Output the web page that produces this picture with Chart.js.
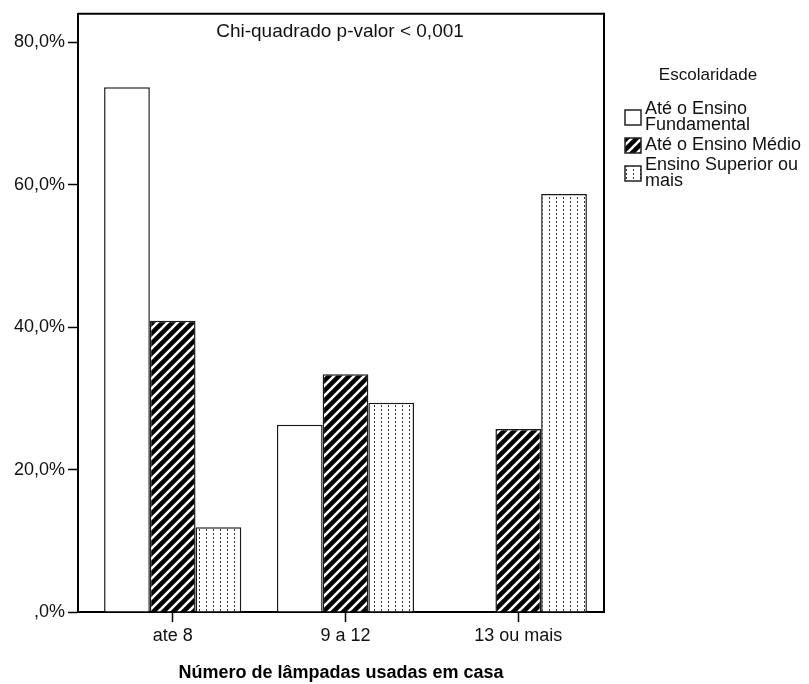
<!DOCTYPE html>
<html>
<head>
<meta charset="utf-8">
<title>Número de lâmpadas usadas em casa</title>
<script src="https://cdn.jsdelivr.net/npm/chart.js@4.4.1/dist/chart.umd.min.js"></script>
<style>
  html, body { margin: 0; padding: 0; background: #fff; }
  #wrap { width: 809px; height: 684px; }
</style>
</head>
<body>
<div id="wrap"><canvas id="chart" width="809" height="684"></canvas></div>
<script>
// Data
const categories = ['ate 8', '9 a 12', '13 ou mais'];
const seriesNames = [['Até o Ensino', 'Fundamental'], ['Até o Ensino Médio'], ['Ensino Superior ou', 'mais']];
const fundamental = [73.7, 26.3, 0];
const medio = [40.9, 33.4, 25.7];
const superior = [11.9, 29.4, 58.7];
const yTicks = [0, 20, 40, 60, 80];
const legendTitle = 'Escolaridade';
const note = 'Chi-quadrado p-valor < 0,001';
const xTitle = 'Número de lâmpadas usadas em casa';

const FONT = '"Liberation Sans", Arial, sans-serif';
const canvas = document.getElementById('chart');
const ctx = canvas.getContext('2d');

// Black fill with white diagonal stripes
function stripePattern() {
    const c = document.createElement('canvas');
    c.width = 10; c.height = 10;
    const g = c.getContext('2d');
    g.fillStyle = '#000';
    g.fillRect(0, 0, 10, 10);
    g.strokeStyle = '#fff';
    g.lineWidth = 2.6;
    g.beginPath();
    g.moveTo(-5, 5); g.lineTo(5, -5);
    g.moveTo(0, 10); g.lineTo(10, 0);
    g.moveTo(5, 15); g.lineTo(15, 5);
    g.stroke();
    return ctx.createPattern(c, 'repeat');
}

// White fill with small dots in columns
function dotPattern() {
    const c = document.createElement('canvas');
    c.width = 7; c.height = 4;
    const g = c.getContext('2d');
    g.fillStyle = '#fff';
    g.fillRect(0, 0, 7, 4);
    g.fillStyle = '#333';
    g.fillRect(3, 1, 1, 2);
    return ctx.createPattern(c, 'repeat');
}

const fills = ['#fff', stripePattern(), dotPattern()];
const seriesValues = [fundamental, medio, superior];

// Frame, note and legend
const extras = {
    id: 'extras',
    afterDraw(chart) {
        const { ctx, chartArea: a } = chart;
        ctx.save();
        ctx.strokeStyle = '#000';
        ctx.lineWidth = 2;
        ctx.beginPath();
        ctx.moveTo(a.left, a.top);
        ctx.lineTo(a.right, a.top);
        ctx.lineTo(a.right, a.bottom);
        ctx.stroke();

        ctx.fillStyle = '#111';
        ctx.font = '19px ' + FONT;
        ctx.textAlign = 'center';
        ctx.textBaseline = 'middle';
        ctx.fillText(note, 340, 32);

        ctx.font = '17px ' + FONT;
        ctx.fillText(legendTitle, 708, 75);

        ctx.font = '18px ' + FONT;
        ctx.textAlign = 'left';
        let y = 101;
        chart.data.datasets.forEach(ds => {
            const lines = ds.label;
            const mid = y + lines.length * 8;
            ctx.fillStyle = ds.backgroundColor;
            ctx.fillRect(625, mid - 7, 16, 15);
            ctx.strokeStyle = '#222';
            ctx.lineWidth = 1.5;
            ctx.strokeRect(625, mid - 7, 16, 15);
            ctx.fillStyle = '#111';
            lines.forEach((t, i) => ctx.fillText(t, 645, y + 8 + i * 16));
            y += lines.length * 16 + 4;
        });
        ctx.restore();
    }
};

new Chart(ctx, {
    type: 'bar',
    data: {
        datasets: seriesValues.map((vals, k) => ({
            label: seriesNames[k],
            data: vals.map((v, i) => ({ x: i, y: v })),
            backgroundColor: fills[k],
            borderColor: '#1a1a1a',
            borderWidth: 1.5,
            categoryPercentage: 0.794,
            barPercentage: 1
        }))
    },
    options: {
        responsive: false,
        animation: false,
        layout: { padding: { top: 12, right: 205, left: 0, bottom: 0 } },
        plugins: { legend: { display: false }, tooltip: { enabled: false } },
        scales: {
            x: {
                type: 'linear',
                offset: false,
                min: -0.548,
                max: 2.496,
                afterBuildTicks: s => { s.ticks = categories.map((_, i) => ({ value: i })); },
                afterFit: s => { s.height = 72; },
                ticks: {
                    callback: v => categories[v],
                    font: { family: FONT, size: 18 },
                    color: '#111',
                    padding: 3,
                    maxRotation: 0,
                    autoSkip: false
                },
                grid: { offset: false, drawOnChartArea: false, drawTicks: true, tickLength: 10, tickColor: '#000', tickWidth: 1.5 },
                border: { display: true, color: '#000', width: 2 },
                title: {
                    display: true,
                    text: xTitle,
                    font: { family: FONT, size: 18, weight: 'bold' },
                    color: '#000',
                    padding: { top: 1, bottom: 0 }
                }
            },
            y: {
                min: 0,
                max: 84,
                afterBuildTicks: s => { s.ticks = yTicks.map(v => ({ value: v })); },
                afterFit: s => { s.width = 78; },
                ticks: {
                    callback: v => (v === 0 ? ',0%' : v.toFixed(1).replace('.', ',') + '%'),
                    font: { family: FONT, size: 18 },
                    color: '#111',
                    padding: 3
                },
                grid: { drawOnChartArea: false, drawTicks: true, tickLength: 10, tickColor: '#000', tickWidth: 1.5 },
                border: { display: true, color: '#000', width: 2 }
            }
        }
    },
    plugins: [extras]
});
</script>
</body>
</html>
